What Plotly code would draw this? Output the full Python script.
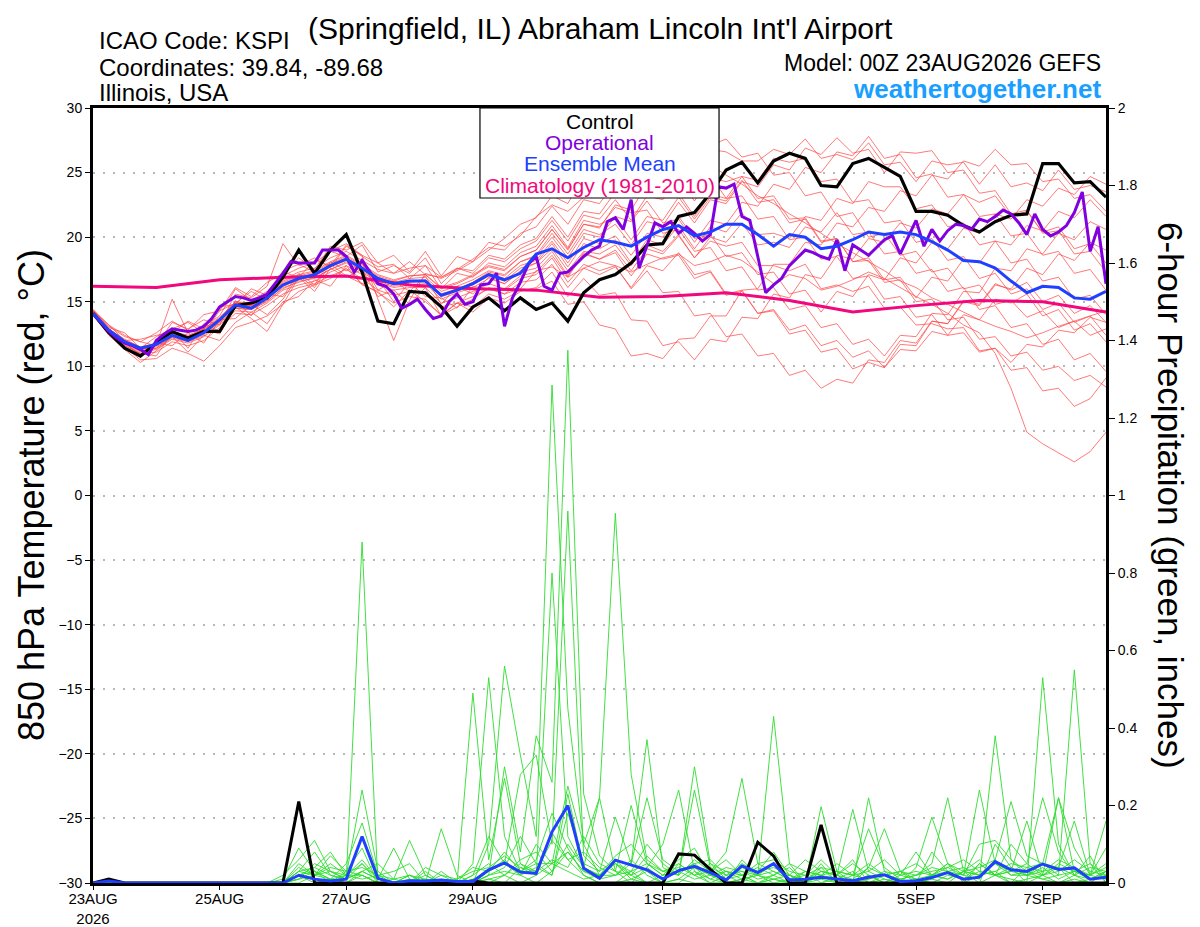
import pandas as pd
import plotly.graph_objects as go

# GEFS 00Z 23AUG2026 run, 6-hourly out to 384 h
start = '2026-08-23 00:00'
end = '2026-09-08 00:00'

tick_dates = ['2026-08-23', '2026-08-25', '2026-08-27', '2026-08-29',
              '2026-09-01', '2026-09-03', '2026-09-05', '2026-09-07']
tick_text = ['23AUG<br>2026', '25AUG', '27AUG', '29AUG', '1SEP', '3SEP', '5SEP', '7SEP']

# 850 hPa temperature (C)
control_t = [14.1, 12.6, 11.4, 10.8, 11.8, 12.7, 12.2, 12.7, 12.7, 14.7, 14.9, 15.3, 16.9,
             19.0, 17.2, 19.0, 20.2, 17.3, 13.5, 13.3, 15.8, 15.7, 14.6, 13.1, 14.6, 15.3,
             14.3, 15.3, 14.4, 14.9, 13.5, 15.7, 16.7, 17.1, 18.0, 19.4, 19.5, 21.6, 21.9,
             23.4, 25.2, 25.8, 24.2, 25.9, 26.5, 26.1, 24.0, 23.9, 25.7, 26.1, 25.4, 24.7,
             22.0, 22.0, 21.7, 20.9, 20.4, 21.2, 21.7, 21.8, 25.7, 25.7, 24.2, 24.3, 23.1]

mean_t = [14.1, 12.8, 11.9, 11.4, 11.7, 12.4, 12.0, 12.6, 13.6, 14.75, 14.5, 15.3, 16.3,
          16.8, 17.1, 17.8, 18.3, 17.6, 16.8, 16.4, 16.6, 16.6, 15.5, 15.9, 16.4, 17.1,
          16.7, 17.2, 18.7, 19.1, 18.4, 19.2, 19.8, 19.6, 19.3, 20.0, 20.6, 20.9, 20.1,
          20.4, 21.0, 21.0, 20.2, 19.3, 20.2, 20.0, 19.1, 19.3, 19.8, 20.4, 20.2, 20.4,
          20.2, 19.65, 19.0, 18.2, 18.1, 17.6, 16.6, 15.7, 16.2, 16.1, 15.3, 15.2, 15.8]

# operational GFS, 3-hourly (one row per day)
oper_t = [14.1, 13.4, 12.7, 12.2, 11.8, 11.6, 11.3, 10.9,
          12.0, 12.5, 12.9, 12.8, 12.7, 12.8, 13.1, 13.7,
          14.6, 15.0, 15.4, 15.3, 15.1, 15.3, 15.6, 16.4,
          17.2, 18.1, 18.0, 18.0, 18.0, 19.0, 19.0, 19.0,
          18.5, 17.3, 18.2, 17.3, 16.4, 16.2, 15.6, 14.5,
          14.8, 15.2, 14.4, 13.7, 13.9, 15.0, 15.6, 14.8,
          15.0, 16.3, 16.4, 17.2, 13.1, 15.3, 16.5, 17.9,
          18.5, 16.2, 15.9, 17.2, 17.3, 17.9, 18.5, 19.0,
          19.3, 21.2, 21.5, 20.6, 22.9, 17.6, 19.3, 21.1,
          20.8, 21.2, 20.3, 20.8, 20.3, 19.7, 20.2, 23.9,
          23.8, 24.1, 21.6, 21.3, 18.5, 15.7, 16.3, 16.8,
          17.8, 18.4, 19.0, 18.8, 18.5, 18.3, 19.8, 17.4,
          19.4, 19.0, 18.6, 19.2, 19.8, 20.1, 18.7, 20.0,
          21.3, 19.3, 20.6, 19.7, 20.5, 21.0, 20.9, 20.6,
          21.4, 21.2, 21.6, 22.1, 21.8, 21.1, 20.2, 21.8,
          20.6, 20.1, 20.4, 20.9, 21.9, 23.5, 18.9, 20.8,
          16.4]

# daily climatology 23AUG..8SEP
clim_t = [16.2, 16.1, 16.7, 16.9, 17.0, 16.3, 16.0, 15.9, 15.35, 15.4, 15.7, 15.1, 14.2,
          14.7, 15.1, 15.0, 14.2]

members_t = [
    [14.3, 12.9, 12.0, 11.4, 11.6, 12.6, 12.3, 12.9, 13.8, 15.0, 14.9, 15.6, 16.7,
     17.3, 17.6, 18.4, 18.9, 18.2, 17.5, 17.2, 17.6, 17.8, 16.9, 17.5, 18.3, 19.2,
     19.0, 20.3, 20.8, 22.4, 21.0, 22.9, 22.6, 24.3, 23.9, 25.8, 25.4, 26.9, 25.3,
     26.8, 26.6, 25.9, 25.9, 26.8, 26.4, 27.6, 26.1, 26.4, 26.0, 27.3, 25.6, 25.8,
     24.3, 25.9, 25.6, 25.8, 24.1, 25.6, 23.9, 24.2, 23.6, 25.2, 23.7, 24.0, 23.5],
    [14.1, 12.5, 11.5, 10.5, 10.6, 11.4, 11.0, 10.4, 11.6, 13.0, 13.4, 13.9, 14.8,
     15.8, 16.3, 16.8, 17.6, 16.4, 15.7, 14.9, 15.4, 15.2, 13.9, 14.6, 15.2, 16.1,
     15.6, 16.0, 17.4, 17.7, 16.9, 17.6, 18.1, 17.8, 17.3, 17.9, 18.4, 18.7, 17.8,
     18.1, 18.6, 18.2, 17.3, 16.4, 17.1, 16.8, 15.9, 16.2, 16.7, 17.3, 16.8, 16.1,
     15.4, 14.8, 14.1, 13.2, 12.6, 11.0, 8.3, 4.9, 4.0, 3.3, 2.6, 3.4, 4.9],
    [14.2, 12.8, 11.8, 11.2, 11.4, 12.3, 12.0, 12.5, 13.4, 14.5, 14.4, 15.1, 16.0,
     16.6, 16.8, 17.5, 18.0, 17.3, 16.5, 16.1, 16.3, 16.4, 15.2, 15.7, 16.1, 16.8,
     16.4, 17.4, 18.0, 19.1, 17.4, 18.9, 18.7, 19.4, 17.8, 19.4, 18.9, 20.2, 18.4,
     19.7, 19.3, 19.6, 17.8, 17.8, 17.4, 17.9, 16.0, 16.3, 15.8, 16.2, 14.5, 14.6,
     13.2, 13.3, 12.9, 13.0, 11.2, 11.4, 9.7, 9.9, 8.1, 8.3, 6.9, 7.5, 9.1],
    [14.4, 13.2, 12.4, 11.9, 12.6, 13.5, 12.8, 14.0, 14.3, 16.1, 15.4, 16.5, 17.2,
     18.4, 17.5, 19.3, 19.0, 19.6, 18.0, 18.6, 17.3, 18.9, 17.0, 18.5, 18.1, 19.6,
     19.3, 20.1, 21.6, 22.5, 22.0, 23.1, 23.9, 24.6, 25.3, 26.1, 26.8, 27.3, 26.4,
     25.6, 24.8, 24.1, 23.2, 22.6, 21.8, 21.1, 20.3, 19.5, 18.8, 18.1, 17.4, 16.6,
     16.1, 15.3, 14.8, 14.2, 13.6, 13.1, 12.7, 12.2, 12.6, 13.1, 13.5, 13.9, 14.3],
    [14.0, 12.4, 11.3, 10.3, 11.2, 12.3, 11.1, 12.4, 12.0, 13.4, 14.2, 13.3, 15.0,
     15.4, 16.7, 16.2, 17.8, 16.3, 15.8, 14.6, 15.9, 15.0, 14.0, 14.9, 14.6, 15.6,
     15.2, 15.9, 16.0, 16.6, 14.8, 15.0, 13.2, 12.9, 10.8, 11.0, 10.6, 12.1, 12.2,
     13.9, 13.9, 15.9, 16.0, 17.9, 17.9, 19.6, 19.4, 21.1, 20.8, 22.3, 22.0, 23.6,
     23.2, 24.8, 24.5, 25.9, 25.5, 26.8, 25.6, 25.7, 24.3, 24.5, 23.0, 23.3, 22.0],
    [14.3, 12.9, 12.0, 11.5, 11.8, 12.7, 12.4, 12.9, 13.7, 15.0, 14.8, 15.5, 16.6,
     17.1, 17.4, 18.1, 18.6, 17.9, 17.1, 16.7, 17.0, 17.1, 16.1, 16.5, 17.1, 17.8,
     17.5, 18.5, 19.0, 20.6, 19.1, 21.0, 20.8, 22.3, 21.9, 22.1, 20.3, 20.6, 18.9,
     19.2, 17.4, 17.7, 15.9, 16.1, 14.4, 14.7, 13.0, 13.3, 11.7, 12.1, 10.8, 12.4,
     12.3, 14.1, 14.0, 15.8, 15.7, 17.6, 17.4, 19.1, 18.7, 20.3, 19.8, 21.2, 20.6],
    [14.1, 12.7, 11.8, 11.2, 11.4, 12.2, 11.9, 12.4, 13.3, 14.5, 14.4, 15.0, 16.1,
     16.5, 16.9, 17.5, 18.1, 17.4, 16.6, 16.2, 16.5, 16.6, 15.5, 15.9, 16.5, 17.3,
     17.0, 18.1, 18.6, 20.3, 18.7, 20.6, 20.2, 21.0, 19.4, 21.2, 20.9, 22.7, 21.1,
     22.9, 22.6, 24.3, 23.9, 25.6, 25.2, 26.9, 26.4, 27.7, 26.5, 26.8, 25.0, 26.6,
     26.5, 26.7, 25.0, 25.2, 23.4, 23.6, 21.8, 22.1, 20.3, 20.5, 18.7, 18.9, 17.3],
    [14.2, 12.6, 11.6, 11.0, 10.8, 12.6, 11.9, 12.9, 12.5, 14.6, 13.7, 12.7, 14.8,
     16.9, 15.8, 17.6, 16.9, 17.5, 15.4, 15.9, 14.8, 16.1, 13.9, 14.9, 14.2, 15.3,
     14.9, 15.8, 16.1, 17.3, 15.4, 16.8, 15.5, 15.7, 13.6, 13.5, 11.6, 11.9, 10.5,
     12.1, 11.9, 13.8, 13.7, 15.6, 15.3, 17.1, 16.8, 18.6, 18.3, 19.9, 19.6, 21.1,
     20.7, 22.2, 21.8, 23.3, 22.7, 23.2, 21.6, 22.0, 20.4, 20.8, 19.1, 19.5, 18.0],
    [14.3, 13.1, 12.3, 11.9, 11.6, 13.4, 12.9, 13.6, 13.2, 15.6, 15.3, 16.2, 19.5,
     17.8, 18.4, 17.6, 19.3, 18.6, 18.0, 17.2, 18.1, 17.1, 16.9, 17.6, 17.2, 18.4,
     18.1, 19.1, 19.7, 21.3, 19.7, 21.7, 21.4, 22.9, 21.3, 23.2, 22.9, 24.6, 22.8,
     24.6, 24.3, 24.7, 23.0, 23.2, 21.4, 21.5, 19.7, 19.9, 18.1, 18.2, 16.5, 16.7,
     15.0, 15.2, 13.6, 13.8, 12.1, 12.3, 10.8, 11.1, 9.7, 10.0, 8.9, 9.3, 8.4],
    [14.0, 12.6, 11.6, 11.0, 11.1, 11.9, 11.6, 12.0, 13.0, 14.1, 14.0, 14.7, 15.6,
     16.1, 16.4, 17.0, 17.5, 16.8, 15.9, 15.5, 15.8, 15.8, 14.6, 14.9, 15.4, 16.0,
     15.6, 16.5, 16.7, 17.9, 16.1, 17.6, 17.1, 17.7, 16.1, 17.8, 17.4, 18.8, 17.1,
     17.4, 15.6, 15.9, 14.1, 14.3, 12.5, 12.8, 11.1, 11.4, 9.8, 10.3, 9.9, 11.7,
     11.6, 13.5, 13.3, 15.1, 14.8, 16.4, 15.9, 16.5, 15.0, 15.5, 14.1, 14.7, 13.4],
    [14.2, 12.9, 12.0, 11.4, 11.7, 15.2, 12.6, 13.1, 13.9, 16.0, 15.1, 15.8, 17.0,
     17.6, 18.0, 18.9, 19.5, 18.6, 15.2, 12.0, 15.1, 17.2, 16.8, 17.4, 18.1, 19.0,
     19.9, 21.0, 21.5, 23.2, 22.6, 24.8, 24.4, 25.1, 23.3, 25.0, 24.6, 26.3, 24.6,
     24.8, 23.0, 23.2, 21.4, 21.6, 19.8, 20.0, 18.3, 18.5, 16.8, 17.0, 15.2, 15.4,
     13.8, 14.0, 12.4, 12.6, 11.1, 11.4, 10.3, 11.7, 11.5, 12.8, 12.6, 13.8, 13.4],
    [14.3, 12.8, 11.9, 11.3, 11.6, 12.5, 12.2, 12.7, 13.6, 14.8, 14.7, 15.4, 16.4,
     16.9, 17.2, 17.9, 18.4, 17.7, 16.9, 16.5, 16.8, 16.9, 15.8, 16.2, 16.7, 17.4,
     17.1, 18.1, 18.5, 20.0, 18.4, 20.3, 20.0, 21.6, 21.2, 22.8, 21.1, 21.4, 19.6,
     21.3, 21.0, 22.7, 22.4, 24.1, 23.7, 25.4, 25.0, 26.6, 26.3, 27.8, 26.1, 26.4,
     24.6, 24.9, 23.1, 23.3, 21.6, 21.8, 20.1, 20.3, 18.6, 18.9, 17.2, 17.5, 15.9],
    [14.1, 12.7, 11.8, 11.3, 11.5, 12.3, 12.0, 12.6, 13.5, 14.6, 14.5, 15.2, 16.2,
     16.7, 17.0, 17.7, 18.2, 17.5, 16.7, 16.3, 16.6, 16.6, 15.4, 15.8, 16.3, 17.0,
     16.6, 17.6, 18.0, 19.5, 17.7, 19.5, 19.1, 19.8, 18.0, 19.8, 19.4, 20.9, 19.1,
     20.8, 20.4, 21.9, 20.2, 20.3, 19.9, 21.6, 21.3, 23.0, 22.6, 24.3, 23.9, 23.9,
     22.2, 22.5, 20.8, 21.1, 19.4, 19.7, 18.0, 18.3, 16.6, 16.9, 15.2, 15.5, 14.0],
    [14.2, 12.9, 11.8, 10.9, 11.8, 11.6, 12.6, 11.8, 13.6, 13.7, 14.8, 14.0, 15.2,
     17.0, 16.1, 17.9, 17.0, 16.4, 16.8, 15.0, 16.5, 15.4, 15.3, 14.5, 16.2, 16.0,
     15.9, 16.8, 17.1, 18.4, 16.5, 17.9, 17.4, 17.8, 16.0, 17.4, 15.7, 15.8, 13.9,
     14.1, 12.3, 12.5, 10.8, 11.0, 9.3, 9.7, 8.3, 9.0, 8.7, 10.5, 10.3, 12.0,
     11.8, 13.5, 13.3, 15.0, 14.7, 16.3, 16.0, 17.6, 17.1, 18.7, 18.2, 19.6, 19.0],
    [14.4, 13.0, 12.6, 11.4, 12.3, 12.9, 13.4, 12.6, 14.3, 14.9, 15.8, 15.1, 17.3,
     16.9, 18.2, 17.8, 19.4, 18.5, 17.7, 17.9, 16.8, 17.8, 16.0, 17.2, 16.9, 18.0,
     17.7, 18.8, 19.3, 20.9, 19.2, 21.3, 21.0, 21.5, 19.8, 21.6, 21.3, 23.1, 21.4,
     23.1, 22.8, 24.4, 22.7, 22.9, 21.1, 21.4, 19.6, 19.9, 18.1, 18.4, 16.7, 16.9,
     15.3, 16.9, 16.6, 18.3, 18.0, 19.7, 19.4, 20.9, 20.5, 22.0, 21.5, 22.9, 21.6],
    [14.0, 12.6, 11.7, 11.1, 11.3, 12.1, 11.8, 12.3, 13.2, 14.3, 14.2, 14.9, 15.9,
     16.3, 16.6, 17.3, 17.8, 17.1, 16.3, 15.9, 16.1, 16.1, 14.9, 15.3, 15.8, 16.4,
     16.0, 17.0, 17.3, 18.6, 16.9, 18.7, 18.3, 19.0, 17.4, 19.1, 18.7, 20.1, 18.4,
     20.0, 19.6, 21.1, 19.4, 19.6, 19.2, 20.8, 20.4, 21.9, 20.2, 20.4, 18.7, 18.9,
     17.2, 17.5, 15.8, 16.1, 14.4, 14.7, 13.0, 13.3, 11.7, 12.1, 10.5, 11.0, 9.6],
    [14.3, 12.9, 12.1, 11.5, 11.7, 12.6, 12.3, 12.8, 13.7, 14.9, 14.7, 15.4, 16.5,
     17.0, 17.3, 18.0, 18.5, 17.8, 17.0, 16.6, 17.0, 17.1, 16.0, 16.4, 17.0, 17.7,
     17.4, 18.5, 19.0, 20.6, 19.0, 21.0, 20.7, 22.5, 22.1, 24.1, 23.7, 25.7, 25.6,
     27.1, 27.6, 26.2, 26.5, 24.8, 25.0, 23.2, 23.5, 21.6, 21.9, 20.0, 20.3, 18.6,
     18.9, 17.3, 17.6, 16.0, 16.3, 14.8, 15.1, 13.8, 14.3, 13.0, 13.5, 12.4, 12.9],
    [14.2, 12.8, 11.9, 11.4, 11.6, 12.5, 12.2, 12.7, 13.6, 14.8, 14.6, 15.3, 16.3,
     16.8, 17.1, 17.8, 18.3, 17.6, 16.8, 16.4, 16.6, 16.7, 15.6, 16.0, 16.5, 17.2,
     16.8, 17.8, 18.2, 19.7, 18.0, 19.9, 19.5, 20.1, 18.6, 20.3, 20.0, 21.6, 19.9,
     20.2, 18.5, 18.8, 17.1, 17.3, 15.6, 15.9, 14.2, 15.8, 15.4, 17.1, 16.7, 18.4,
     18.0, 19.6, 19.1, 20.7, 20.3, 21.8, 21.4, 22.9, 22.4, 23.8, 23.3, 24.7, 24.1],
    [14.1, 12.6, 11.9, 10.8, 11.9, 12.8, 11.4, 13.3, 12.7, 15.1, 13.9, 15.6, 15.4,
     17.2, 16.3, 18.1, 17.4, 18.0, 15.9, 16.6, 15.8, 17.0, 14.8, 16.2, 15.6, 16.9,
     16.4, 17.3, 17.6, 18.9, 17.0, 18.8, 18.3, 18.8, 17.0, 18.7, 18.3, 18.6, 16.8,
     17.3, 15.5, 15.8, 14.1, 14.4, 12.8, 13.2, 11.6, 12.0, 10.7, 11.2, 9.9, 11.3,
     11.2, 12.7, 12.4, 14.0, 13.6, 15.2, 14.9, 15.6, 13.9, 14.4, 12.8, 13.3, 11.9],
    [14.3, 13.2, 12.0, 12.1, 12.4, 12.6, 13.5, 12.9, 14.6, 14.8, 16.0, 15.5, 17.4,
     17.9, 17.3, 18.9, 18.5, 19.4, 17.3, 17.8, 17.2, 18.4, 16.4, 17.6, 17.4, 18.6,
     18.3, 19.4, 19.9, 21.6, 20.0, 22.0, 21.8, 23.5, 23.2, 24.9, 23.2, 23.4, 21.6,
     23.3, 23.0, 24.7, 24.4, 26.1, 25.8, 26.1, 24.3, 24.5, 22.7, 22.9, 21.1, 21.3,
     19.6, 19.9, 18.2, 18.5, 16.8, 17.2, 15.6, 16.0, 14.4, 14.9, 13.4, 13.9, 12.4],
]

# 6-hour precipitation (inches)
control_p = [0, 0.01, 0, 0, 0, 0, 0, 0, 0, 0, 0, 0, 0,
             0.21, 0, 0, 0, 0, 0, 0, 0, 0, 0, 0, 0.005, 0,
             0, 0, 0, 0, 0, 0, 0, 0, 0, 0, 0, 0.075, 0.072,
             0.035, 0, 0, 0.105, 0.07, 0, 0, 0.15, 0, 0, 0, 0, 0,
             0, 0, 0, 0, 0, 0, 0, 0, 0, 0, 0, 0, 0]

mean_p = [0, 0.005, 0, 0, 0, 0, 0, 0, 0, 0, 0, 0, 0,
          0.02, 0.01, 0.005, 0.01, 0.12, 0.012, 0, 0.006, 0.005, 0.008, 0.004, 0.004, 0.034,
          0.052, 0.028, 0.025, 0.132, 0.2, 0.038, 0.012, 0.059, 0.047, 0.034, 0.01, 0.032, 0.043,
          0.027, 0.008, 0.044, 0.027, 0.05, 0.008, 0.01, 0.015, 0.01, 0.006, 0.015, 0.021, 0.004,
          0.006, 0.014, 0.027, 0.01, 0.015, 0.055, 0.034, 0.03, 0.049, 0.035, 0.039, 0.01, 0.015]

members_p = [
    [0, 0, 0, 0, 0, 0, 0, 0, 0, 0, 0, 0, 0.02,
     0.06, 0.11, 0.03, 0.01, 0.88, 0, 0, 0.02, 0, 0, 0, 0.05, 0.53,
     0.12, 0.03, 0.06, 0.18, 0.09, 0.02, 0, 0, 0.03, 0, 0, 0.05, 0.02,
     0, 0, 0.01, 0, 0, 0, 0, 0.04, 0, 0, 0.02, 0, 0,
     0, 0.02, 0.05, 0, 0, 0.1, 0.04, 0, 0.53, 0.1, 0.02, 0, 0.03],
    [0, 0, 0, 0, 0, 0, 0, 0, 0, 0, 0, 0, 0,
     0.02, 0.04, 0.08, 0.02, 0.24, 0.03, 0, 0, 0, 0.14, 0.02, 0, 0.1,
     0.56, 0.33, 0.12, 1.285, 0.45, 0.1, 0.02, 0.05, 0.02, 0, 0, 0, 0.03,
     0, 0, 0.06, 0.02, 0.43, 0.05, 0, 0, 0.02, 0.06, 0, 0, 0.02,
     0.01, 0, 0, 0, 0.05, 0.02, 0.1, 0.05, 0.22, 0.08, 0.02, 0.07, 0],
    [0, 0, 0, 0, 0, 0, 0, 0, 0, 0, 0, 0, 0.01,
     0.09, 0.03, 0.01, 0.05, 0.155, 0.02, 0.01, 0.11, 0.02, 0, 0, 0, 0.02,
     0.3, 0.08, 0.38, 0.26, 1.375, 0.23, 0.07, 0.03, 0, 0.04, 0.1, 0.24, 0.03,
     0.01, 0, 0, 0.03, 0.08, 0.02, 0, 0.05, 0, 0, 0.04, 0.14, 0.03,
     0, 0, 0, 0.03, 0.06, 0.02, 0, 0.04, 0.05, 0.22, 0.09, 0.02, 0.16],
    [0, 0, 0, 0, 0, 0, 0, 0, 0, 0, 0, 0, 0,
     0.04, 0.02, 0.07, 0.03, 0.09, 0, 0, 0, 0.04, 0.02, 0, 0.49, 0.06,
     0.27, 0.05, 0.02, 0.8, 0.12, 0.04, 0.22, 0.954, 0.28, 0.06, 0.03, 0.02, 0.3,
     0.05, 0.01, 0.02, 0, 0.02, 0.04, 0, 0.197, 0.03, 0, 0.22, 0.03, 0,
     0, 0.08, 0.03, 0.02, 0.24, 0.05, 0.02, 0.02, 0.03, 0.04, 0.16, 0.02, 0.01],
    [0, 0, 0, 0, 0, 0, 0, 0, 0, 0, 0, 0, 0,
     0.01, 0.05, 0.03, 0.02, 0.05, 0.01, 0, 0.02, 0.01, 0, 0, 0, 0.03,
     0.05, 0.28, 0.33, 0.1, 0.96, 0.07, 0.03, 0.17, 0.05, 0.37, 0.04, 0.02, 0.06,
     0.03, 0.08, 0.27, 0.05, 0.03, 0.01, 0.02, 0.06, 0.02, 0.19, 0.03, 0.01, 0,
     0.04, 0.17, 0.05, 0.02, 0.01, 0.38, 0.06, 0.02, 0.05, 0.04, 0.02, 0.04, 0.03],
    [0, 0, 0, 0, 0, 0, 0, 0, 0, 0, 0, 0, 0,
     0.03, 0.08, 0.02, 0.01, 0.03, 0.05, 0.01, 0, 0, 0.02, 0.01, 0.04, 0.03,
     0.08, 0.03, 0.05, 0.05, 0.25, 0.1, 0.22, 0.03, 0.2, 0.05, 0.02, 0.06, 0.09,
     0.02, 0.04, 0.03, 0.02, 0.01, 0, 0.03, 0.02, 0, 0.02, 0.14, 0.04, 0.01,
     0.02, 0.05, 0.22, 0.03, 0.02, 0.06, 0.21, 0.07, 0.05, 0.02, 0.55, 0.05, 0],
    [0, 0, 0, 0, 0, 0, 0, 0, 0, 0, 0, 0, 0,
     0.02, 0.01, 0, 0.03, 0.04, 0.02, 0.03, 0.05, 0, 0.01, 0, 0.02, 0.05,
     0.02, 0.06, 0.08, 0.03, 0.1, 0.04, 0.02, 0.05, 0.03, 0.1, 0.05, 0.02, 0.24,
     0.04, 0.02, 0.03, 0.01, 0.02, 0, 0.01, 0.03, 0.02, 0, 0.01, 0.03, 0.02,
     0.08, 0.02, 0.01, 0.03, 0.02, 0.05, 0.03, 0.16, 0.02, 0.22, 0.03, 0.01, 0.03],
    [0, 0, 0, 0, 0, 0, 0, 0, 0, 0, 0, 0, 0,
     0.05, 0.02, 0.01, 0, 0.02, 0, 0, 0, 0.03, 0, 0, 0.02, 0.12,
     0.05, 0.02, 0.1, 0.05, 0.08, 0.03, 0.02, 0.02, 0.05, 0.22, 0.06, 0.03, 0.05,
     0.06, 0.02, 0.05, 0.03, 0.04, 0.02, 0.06, 0.03, 0.02, 0.05, 0.02, 0, 0.03,
     0.02, 0.03, 0.04, 0.02, 0.1, 0.11, 0.06, 0.03, 0.02, 0.05, 0.03, 0.02, 0.05],
    [0, 0, 0, 0, 0, 0, 0, 0, 0, 0, 0, 0, 0,
     0.03, 0.04, 0.02, 0.01, 0.03, 0.01, 0.09, 0.01, 0, 0, 0, 0, 0.02,
     0.03, 0.02, 0.04, 0.02, 0.23, 0.04, 0.02, 0.07, 0.1, 0.05, 0.03, 0.04, 0.02,
     0.03, 0.06, 0.02, 0.04, 0.02, 0.05, 0.03, 0.02, 0.05, 0.02, 0.03, 0.06, 0.02,
     0.03, 0.02, 0.03, 0.04, 0.02, 0.03, 0.05, 0.04, 0.03, 0.06, 0.04, 0.02, 0.09],
    [0, 0, 0, 0, 0, 0, 0, 0, 0, 0, 0, 0, 0,
     0.01, 0.02, 0.05, 0.02, 0.01, 0.02, 0, 0, 0.01, 0, 0, 0, 0.01,
     0.02, 0.05, 0.03, 0.06, 0.04, 0.12, 0.05, 0.03, 0.02, 0.07, 0.03, 0.05, 0.02,
     0.05, 0.03, 0.02, 0.05, 0.06, 0.03, 0.02, 0.04, 0.03, 0.02, 0.05, 0.02, 0.03,
     0.05, 0.02, 0.04, 0.06, 0.03, 0.02, 0.03, 0.05, 0.02, 0.03, 0.06, 0.03, 0.02],
    [0, 0, 0, 0, 0, 0, 0, 0, 0, 0, 0, 0, 0,
     0, 0.02, 0.03, 0.01, 0.05, 0, 0, 0.01, 0, 0, 0, 0, 0,
     0.02, 0, 0.02, 0.13, 0.06, 0.02, 0, 0, 0.01, 0.03, 0, 0.01, 0,
     0, 0.02, 0, 0, 0.01, 0, 0, 0.01, 0, 0, 0.02, 0, 0,
     0, 0.01, 0, 0, 0.02, 0.03, 0, 0.01, 0.02, 0, 0.01, 0, 0],
    [0, 0, 0, 0, 0, 0, 0, 0, 0, 0, 0, 0, 0,
     0.02, 0, 0.01, 0, 0.03, 0.01, 0, 0, 0, 0, 0, 0, 0.01,
     0, 0.04, 0.02, 0.05, 0.03, 0.01, 0.02, 0.05, 0.01, 0, 0.02, 0.03, 0.01,
     0.02, 0, 0.01, 0.02, 0, 0.01, 0.03, 0, 0.01, 0, 0, 0.02, 0.01,
     0, 0.02, 0.01, 0.03, 0, 0.02, 0.01, 0, 0.02, 0.04, 0, 0.01, 0.02],
    [0, 0, 0, 0, 0, 0, 0, 0, 0, 0, 0, 0, 0,
     0.01, 0.03, 0, 0.02, 0.02, 0, 0, 0, 0.02, 0, 0, 0.01, 0.03,
     0.06, 0.02, 0, 0.03, 0.08, 0.03, 0.01, 0.02, 0.06, 0.02, 0, 0.01, 0.04,
     0.01, 0.03, 0.02, 0, 0.01, 0.02, 0, 0.02, 0.01, 0.03, 0, 0.01, 0,
     0.01, 0, 0.02, 0.01, 0.03, 0.02, 0.04, 0.02, 0.01, 0, 0.02, 0.01, 0.03],
    [0, 0, 0, 0, 0, 0, 0, 0, 0, 0, 0, 0, 0,
     0.02, 0.03, 0.01, 0.02, 0.06, 0.01, 0, 0, 0, 0.03, 0, 0, 0.02,
     0.04, 0.12, 0.05, 0.02, 0.18, 0.05, 0.03, 0.06, 0.02, 0.04, 0.01, 0.03, 0.05,
     0.02, 0.01, 0.04, 0.02, 0.03, 0.01, 0, 0.03, 0.02, 0.01, 0.04, 0.02, 0.01,
     0.02, 0.04, 0.03, 0.01, 0.05, 0.02, 0.03, 0.02, 0.04, 0.01, 0.03, 0.02, 0.04],
    [0, 0, 0, 0, 0, 0, 0, 0, 0, 0, 0, 0, 0,
     0.03, 0.02, 0.04, 0.03, 0.02, 0, 0.01, 0.02, 0, 0, 0.01, 0.03, 0.04,
     0.07, 0.04, 0.03, 0.11, 0.06, 0.08, 0.04, 0.02, 0.03, 0.05, 0.02, 0.03, 0.04,
     0.02, 0.03, 0.01, 0.02, 0.05, 0.02, 0.01, 0.02, 0.03, 0.02, 0.01, 0.02, 0.03,
     0.01, 0.02, 0.05, 0.03, 0.04, 0.06, 0.02, 0.03, 0.01, 0.02, 0.03, 0.05, 0.02],
]

times = pd.date_range(start, periods=len(control_t), freq='6h')
oper_times = pd.date_range(start, periods=len(oper_t), freq='3h')
clim_times = pd.date_range(start, periods=len(clim_t), freq='D')

purple = '#8000e0'
blue = '#2040ff'
magenta = '#f0087c'

fig = go.Figure()

# precipitation goes on the base axis so the temperature lines sit on top
for m in members_p:
    fig.add_trace(go.Scatter(x=times, y=m, mode='lines', yaxis='y',
                             line=dict(color='#2edc2e', width=0.9)))
fig.add_trace(go.Scatter(x=times, y=control_p, mode='lines', yaxis='y',
                         line=dict(color='black', width=3)))
fig.add_trace(go.Scatter(x=times, y=mean_p, mode='lines', yaxis='y',
                         line=dict(color=blue, width=3)))

for m in members_t:
    fig.add_trace(go.Scatter(x=times, y=m, mode='lines', yaxis='y2',
                             line=dict(color='rgba(255,70,70,0.8)', width=0.9)))
fig.add_trace(go.Scatter(x=clim_times, y=clim_t, mode='lines', yaxis='y2',
                         line=dict(color=magenta, width=3)))
fig.add_trace(go.Scatter(x=times, y=control_t, mode='lines', yaxis='y2',
                         line=dict(color='black', width=3.2)))
fig.add_trace(go.Scatter(x=oper_times, y=oper_t, mode='lines', yaxis='y2',
                         line=dict(color=purple, width=3)))
fig.add_trace(go.Scatter(x=times, y=mean_t, mode='lines', yaxis='y2',
                         line=dict(color=blue, width=3)))


def note(text, x, y, size, xanchor='center', color='black', angle=0):
    return dict(text=text, x=x, y=y, xref='paper', yref='paper', xanchor=xanchor,
                yanchor='middle', showarrow=False, textangle=angle,
                font=dict(size=size, color=color))


notes = [
    note("(Springfield, IL) Abraham Lincoln Int'l Airport", 0.5005, 1.1032, 30),
    note('ICAO Code: KSPI', 0.004, 1.0865, 24, 'left'),
    note('Coordinates: 39.84, -89.68', 0.004, 1.0529, 24, 'left'),
    note('Illinois, USA', 0.004, 1.0194, 24, 'left'),
    note('Model: 00Z 23AUG2026 GEFS', 0.997, 1.0580, 23, 'right'),
    note('<b>weathertogether.net</b>', 0.997, 1.0240, 26, 'right', '#1a9fff'),
    note('850 hPa Temperature (red, °C)', -0.0612, 0.5006, 36, angle=-90),
    note('6-hour Precipitation (green, inches)', 1.0642, 0.5006, 35, angle=90),
    # legend box lines
    note('Control', 0.5, 0.9832, 21),
    note('Operational', 0.5, 0.9561, 21, color=purple),
    note('Ensemble Mean', 0.5, 0.9290, 21, color=blue),
    note('Climatology (1981-2010)', 0.5, 0.9006, 21, color=magenta),
]

# page body keeps an 8px margin, so the figure is 8px smaller on each side
fig.update_layout(
    width=1192, height=919,
    margin=dict(l=85, r=94, t=100, b=44),
    plot_bgcolor='white', paper_bgcolor='white',
    showlegend=False,
    font=dict(family='Liberation Sans, Arial, sans-serif', color='black'),
    xaxis=dict(type='date', range=[start, end], tickvals=tick_dates, ticktext=tick_text,
               showline=True, linewidth=3, linecolor='black', mirror=True,
               ticks='outside', ticklen=4, tickcolor='black', showgrid=False,
               ticklabelstandoff=-4, automargin=False, tickfont=dict(size=15)),
    yaxis=dict(range=[0, 2], dtick=0.2, side='right', showline=True, linewidth=3,
               linecolor='black', ticks='outside', ticklen=6, tickcolor='black',
               showgrid=False, zeroline=False, automargin=False, tickfont=dict(size=14)),
    yaxis2=dict(range=[-30, 30], dtick=5, side='left', overlaying='y', showline=True,
                linewidth=3, linecolor='black', ticks='outside', ticklen=5, tickcolor='black',
                showgrid=True, gridcolor='#b8b8b8', griddash='2px,8px', gridwidth=1.6,
                zeroline=False, automargin=False, tickfont=dict(size=14)),
    shapes=[dict(type='rect', xref='paper', yref='paper', x0=0.382, x1=0.618,
                 y0=0.8839, y1=1.0, line=dict(color='black', width=1.2),
                 fillcolor='white', layer='above')],
    annotations=notes,
)

fig.write_html('out.html')
